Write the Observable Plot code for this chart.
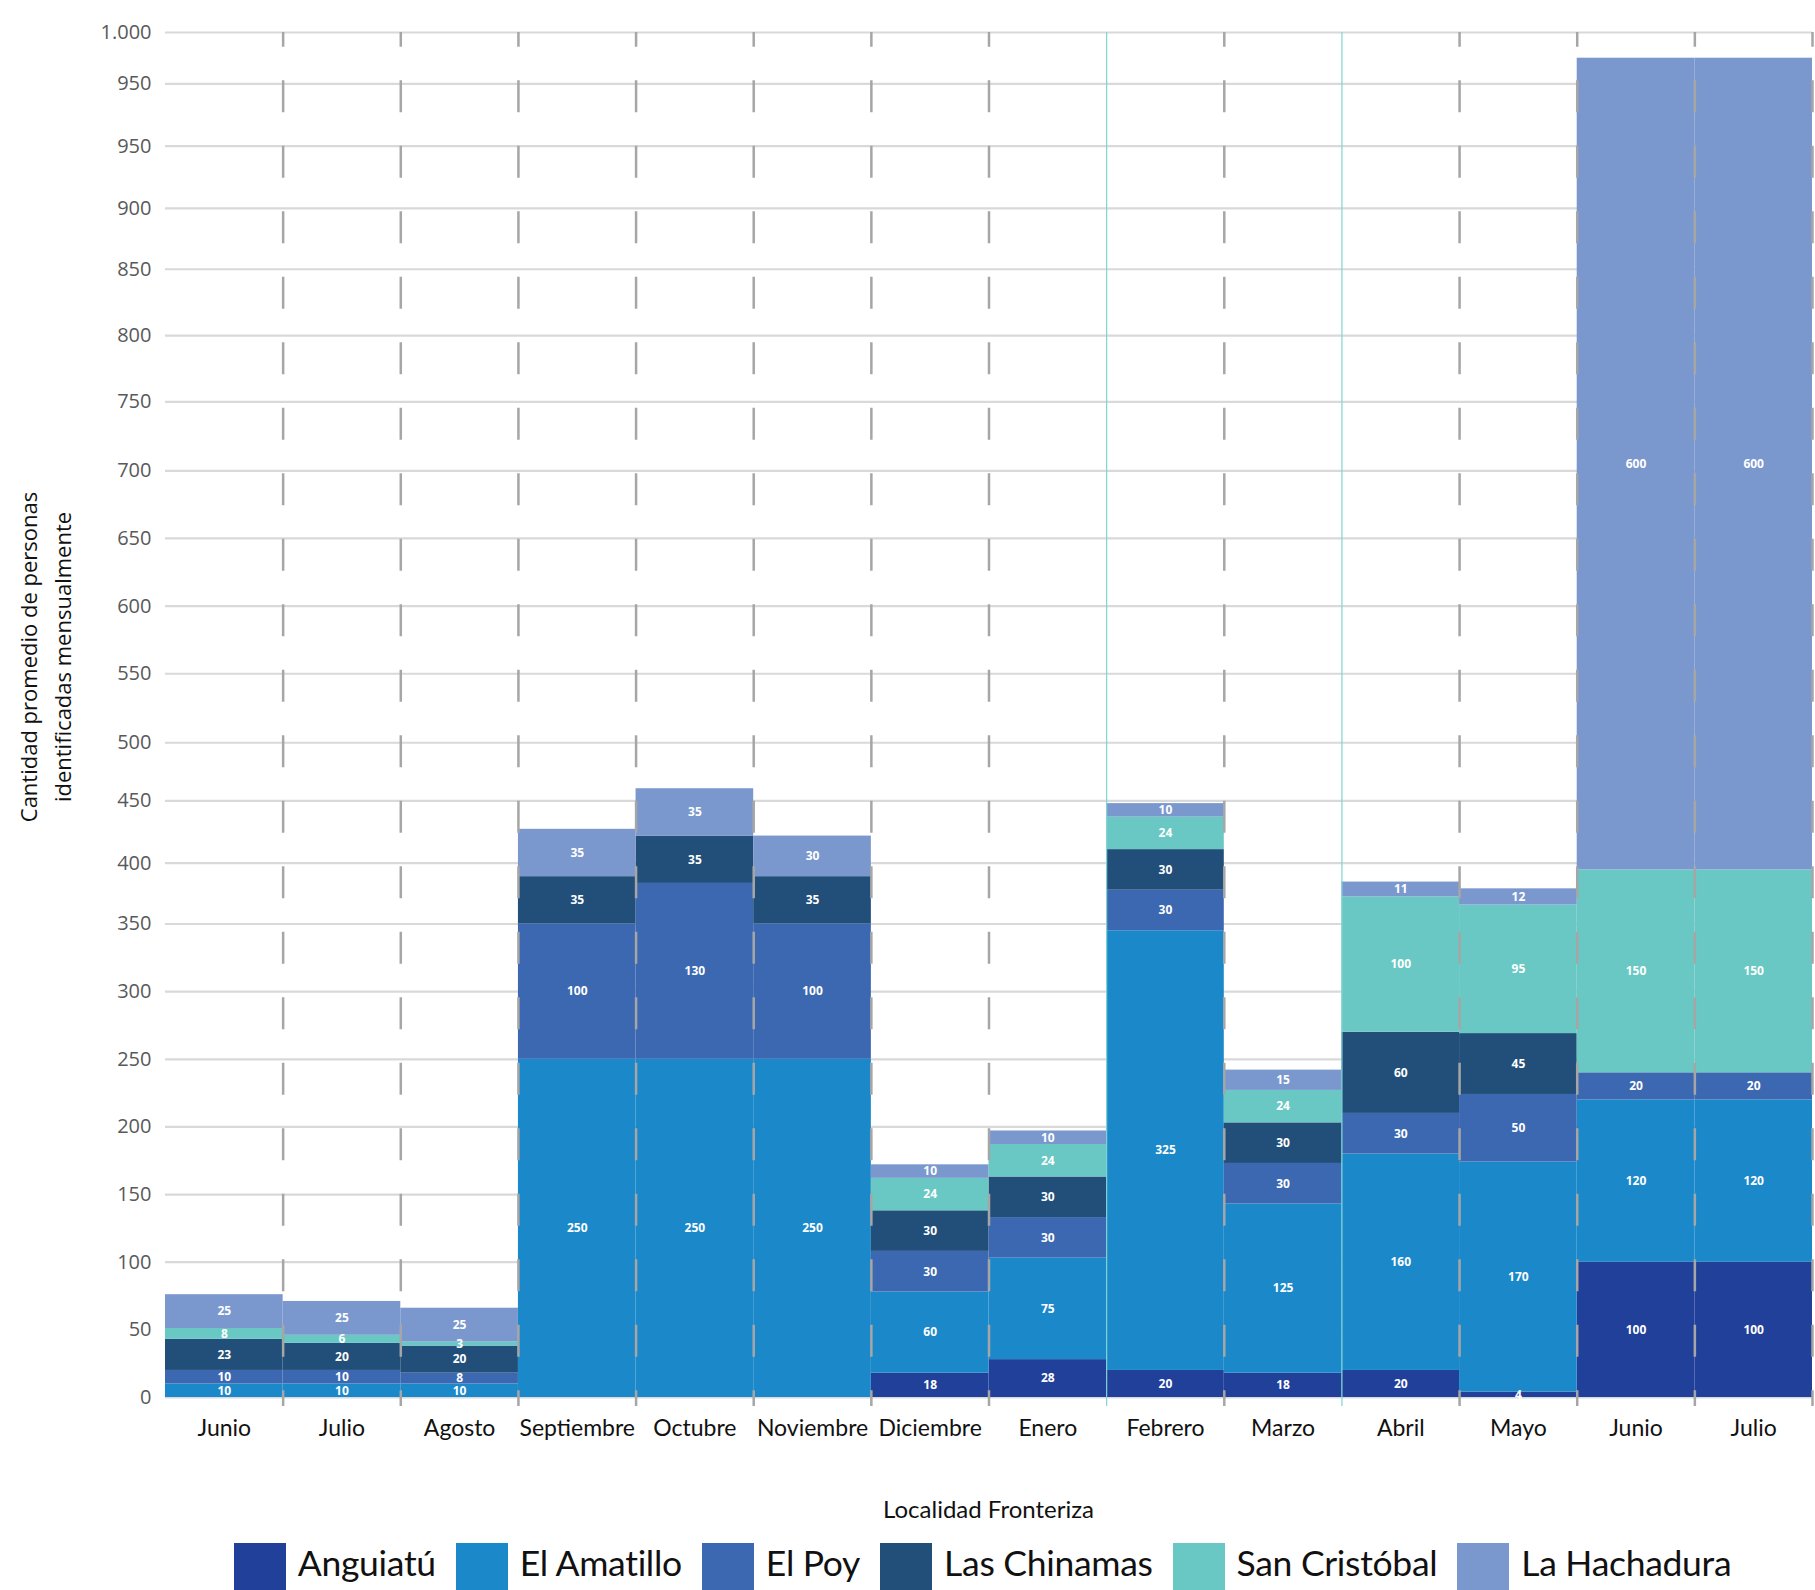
<!DOCTYPE html>
<html>
<head>
<meta charset="utf-8">
<script src="https://cdn.jsdelivr.net/npm/d3@7"></script>
<script src="https://cdn.jsdelivr.net/npm/@observablehq/plot@0.6"></script>
<style>
  body { margin: 0; background: #fff; }
  #wrap { position: relative; width: 1815px; height: 1590px; overflow: hidden; font-family: Lato, sans-serif; }
  #chart { position: absolute; left: 0; top: 0; }
  #ytitle { position: absolute; left: 45px; top: 657px; transform: translate(-50%, -50%) rotate(-90deg);
            font-family: "Open Sans", sans-serif; font-size: 22px; line-height: 34px; text-align: center;
            white-space: nowrap; color: #111; }
  #xtitle { position: absolute; left: 165px; width: 1647px; top: 1494px; text-align: center;
            font-family: Lato, sans-serif; font-size: 24px; color: #111; }
  #legend { position: absolute; top: 1543px; left: 150px; width: 1665px; display: flex; justify-content: center;
            gap: 20px; font-family: Lato, sans-serif; font-size: 35.5px; color: #111; letter-spacing: -0.3px; }
  .item { display: flex; align-items: flex-start; }
  .sw { width: 52px; height: 47px; margin-right: 12px; }
  .lab { line-height: 47px; position: relative; top: -4px; white-space: nowrap; }
</style>
</head>
<body>
<div id="wrap">
  <div id="chart"></div>
  <div id="ytitle">Cantidad promedio de personas<br>identificadas mensualmente</div>
  <div id="xtitle">Localidad Fronteriza</div>
  <div id="legend"></div>
</div>
<script>
// ---- Data ----
const months = ["Junio","Julio","Agosto","Septiembre","Octubre","Noviembre","Diciembre","Enero","Febrero","Marzo","Abril","Mayo","Junio","Julio"];
const series = ["Anguiatú","El Amatillo","El Poy","Las Chinamas","San Cristóbal","La Hachadura"];
const anguiatu     = [0, 0, 0, 0, 0, 0, 18, 28, 20, 18, 20, 4, 100, 100];
const elAmatillo   = [10, 10, 10, 250, 250, 250, 60, 75, 325, 125, 160, 170, 120, 120];
const elPoy        = [10, 10, 8, 100, 130, 100, 30, 30, 30, 30, 30, 50, 20, 20];
const lasChinamas  = [23, 20, 20, 35, 35, 35, 30, 30, 30, 30, 60, 45, 0, 0];
const sanCristobal = [8, 6, 3, 0, 0, 0, 24, 24, 24, 24, 100, 95, 150, 150];
const laHachadura  = [25, 25, 25, 35, 35, 30, 10, 10, 10, 15, 11, 12, 600, 600];
// gridline values and the labels printed at them
const gridValues = [0, 50, 100, 150, 200, 250, 300, 350, 395, 441, 484, 535, 585, 635, 685, 736, 785, 834, 879, 925, 971, 1009];
const gridLabels = ["0","50","100","150","200","250","300","350","400","450","500","550","600","650","700","750","800","850","900","950","950","1.000"];
const highlightBefore = ["Febrero", "Abril"];
const colors = ["#21409a", "#1a88c9", "#3c67b1", "#224f7a", "#69c8c3", "#7a98ce"];

// ---- Build table ----
const valuesBySeries = [anguiatu, elAmatillo, elPoy, lasChinamas, sanCristobal, laHachadura];
const rows = [];
series.forEach((s, k) => valuesBySeries[k].forEach((v, i) => rows.push({i, month: months[i], series: s, value: v})));
const gridLabelMap = new Map(gridValues.map((v, k) => [v, gridLabels[k]]));
const boundaries = d3.range(1, months.length + 1);
const highlighted = highlightBefore.map(m => months.indexOf(m));
const grayBounds = boundaries.filter(b => !highlighted.includes(b));
const tickPos = d3.range(months.length).map(i => i + 0.5);

const plot = Plot.plot({
  width: 1815,
  height: 1470,
  marginLeft: 165,
  marginRight: 3,
  marginTop: 32,
  marginBottom: 73,
  style: {fontFamily: "Lato, sans-serif", background: "#fff"},
  x: {type: "linear", domain: [0, months.length], axis: null, label: null},
  y: {domain: [0, d3.max(gridValues)], axis: null, label: null},
  color: {domain: series, range: colors},
  marks: [
    Plot.ruleY(gridValues, {stroke: "#d9d9d9", strokeWidth: 2.2}),
    Plot.rectY(rows, {x1: "i", x2: d => d.i + 1, y: "value", fill: "series"}),
    Plot.text(rows.filter(d => d.value > 0), Plot.stackY({
      x: d => d.i + 0.5, y: "value", text: d => String(d.value),
      fill: "white", fontWeight: "bold", fontSize: 12, fontFamily: "Open Sans, sans-serif"
    })),
    Plot.ruleX(grayBounds, {stroke: "#a6a6a6", strokeWidth: 2.5, strokeDasharray: "32,33.5", strokeDashoffset: 17.2, insetBottom: -9}),
    Plot.ruleX(highlighted, {stroke: "#7fd4d6", strokeWidth: 1.2, insetBottom: -9}),
    Plot.axisY(gridValues, {tickSize: 0, tickPadding: 14, tickFormat: d => gridLabelMap.get(d),
      fontSize: 20, fontFamily: "Open Sans, sans-serif", fill: "#595959", label: null}),
    Plot.axisX(tickPos, {tickSize: 0, tickPadding: 22, tickFormat: d => months[Math.floor(d)],
      fontSize: 23, fontFamily: "Lato, sans-serif", fill: "#111", label: null})
  ]
});
document.getElementById("chart").appendChild(plot);

const legend = document.getElementById("legend");
series.forEach((s, k) => {
  const it = document.createElement("div");
  it.className = "item";
  const sw = document.createElement("div");
  sw.className = "sw";
  sw.style.background = colors[k];
  const lab = document.createElement("div");
  lab.className = "lab";
  lab.textContent = s;
  it.appendChild(sw); it.appendChild(lab);
  legend.appendChild(it);
});
</script>
</body>
</html>
